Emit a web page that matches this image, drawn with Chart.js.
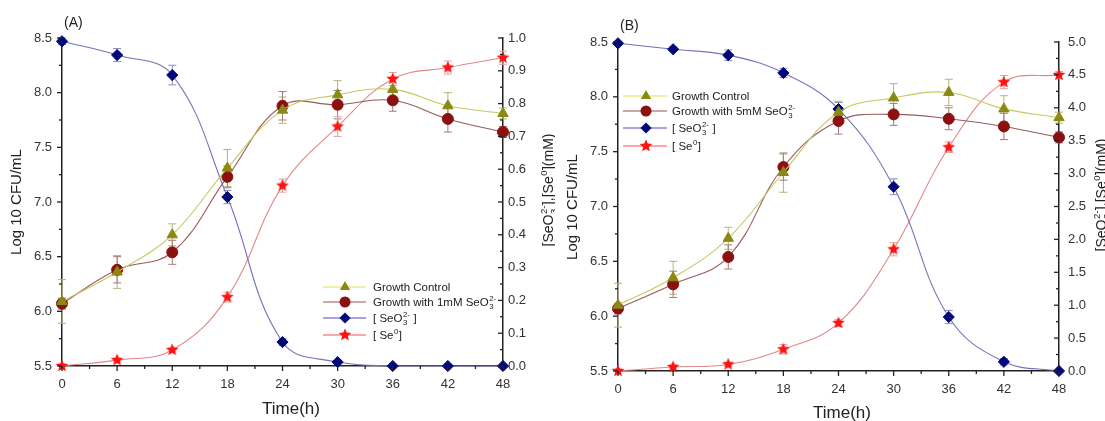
<!DOCTYPE html>
<html><head><meta charset="utf-8">
<script src="https://cdn.jsdelivr.net/npm/chart.js@4/dist/chart.umd.min.js"></script>
<style>
html,body{margin:0;padding:0;background:#fff;width:1105px;height:421px;overflow:hidden}
#wa{position:absolute;left:0;top:0;width:555px;height:421px}
#wb{position:absolute;left:555px;top:0;width:550px;height:421px}
</style></head><body>
<div id="wa"><canvas id="ca"></canvas></div>
<div id="wb"><canvas id="cb"></canvas></div>
<script>
const FONT = "'Liberation Sans', Arial, Helvetica, sans-serif";

// ---- categories / ticks ----
const timeH = [0, 6, 12, 18, 24, 30, 36, 42, 48];
const timeTicks = [0, 6, 12, 18, 24, 30, 36, 42, 48];
const cfuTicks = [5.5, 6.0, 6.5, 7.0, 7.5, 8.0, 8.5];
const mMTicksA = [0, 0.1, 0.2, 0.3, 0.4, 0.5, 0.6, 0.7, 0.8, 0.9, 1.0];
const mMTicksB = [0, 0.5, 1.0, 1.5, 2.0, 2.5, 3.0, 3.5, 4.0, 4.5, 5.0];

// ---- Panel A values ----
const ctrlA      = [6.09, 6.36, 6.70, 7.31, 7.84, 7.98, 8.03, 7.88, 7.81];
const ctrlAErr   = [0.20, 0.15, 0.10, 0.17, 0.12, 0.13, 0.10, 0.12, 0.05];
const seGrowA    = [6.07, 6.38, 6.54, 7.23, 7.88, 7.89, 7.93, 7.76, 7.64];
const seGrowAErr = [0.05, 0.12, 0.11, 0.10, 0.13, 0.13, 0.10, 0.12, 0.05];
const seo3A      = [0.99, 0.948, 0.887, 0.515, 0.073, 0.012, 0.0, 0.0, 0.0];
const seo3AErr   = [0.01, 0.02, 0.03, 0.02, 0.01, 0.005, 0, 0, 0];
const se0A       = [0.0, 0.018, 0.049, 0.21, 0.55, 0.73, 0.875, 0.91, 0.94];
const se0AErr    = [0, 0.005, 0.005, 0.015, 0.02, 0.03, 0.02, 0.02, 0.02];

// ---- Panel B values ----
const ctrlB      = [6.10, 6.35, 6.71, 7.31, 7.86, 7.99, 8.04, 7.89, 7.81];
const ctrlBErr   = [0.20, 0.15, 0.10, 0.18, 0.10, 0.13, 0.12, 0.12, 0.05];
const seGrowB    = [6.07, 6.29, 6.54, 7.36, 7.78, 7.84, 7.80, 7.73, 7.63];
const seGrowBErr = [0.05, 0.12, 0.11, 0.12, 0.12, 0.10, 0.10, 0.12, 0.05];
const seo3B      = [4.98, 4.89, 4.80, 4.53, 3.98, 2.80, 0.82, 0.14, 0.0];
const seo3BErr   = [0.03, 0.03, 0.08, 0.07, 0.10, 0.12, 0.10, 0.05, 0];
const se0B       = [0.0, 0.06, 0.10, 0.33, 0.73, 1.85, 3.40, 4.39, 4.50];
const se0BErr    = [0, 0.03, 0.03, 0.07, 0.05, 0.10, 0.08, 0.10, 0.05];

// ---- styles ----
const C = {
  ctrl: {mk:'#8a8a12', line:'#c8c860', err:'#b8b078', leg:'#e2e050'},
  grow: {mk:'#8b1010', line:'#9a5a5a', err:'#a87878', leg:'#a05050'},
  seo3: {mk:'#00087a', line:'#7474b8', err:'#8c8cc4', leg:'#4a4ac0'},
  se0:  {mk:'#ff1212', line:'#e08888', err:'#e0a0a0', leg:'#ff5050'}
};

function makeStar(R, color){
  const s = Math.ceil(2*R+2);
  const c = document.createElement('canvas'); c.width = s; c.height = s;
  const g = c.getContext('2d');
  g.beginPath();
  for (let k=0;k<10;k++){
    const r = (k%2) ? R*0.45 : R;
    const a = -Math.PI/2 + k*Math.PI/5;
    g.lineTo(s/2 + r*Math.cos(a), s/2 + r*Math.sin(a));
  }
  g.closePath(); g.fillStyle = color; g.fill();
  return c;
}
const STAR = makeStar(6.6, C.se0.mk);

function ds(label, ys, errs, axis, style, col, radius){
  return {
    label, data: timeH.map((t,i)=>({x:t, y:ys[i]})), errors: errs, errColor: col.err,
    yAxisID: axis, pointStyle: style, pointRadius: radius, pointHoverRadius: radius,
    pointBackgroundColor: col.mk, pointBorderColor: col.mk, pointBorderWidth: 1,
    borderColor: col.line, borderWidth: 1.1, tension: 0.4, fill: false, clip: false
  };
}

// rich text: segments are strings or {sub, sup}
function segWidth(ctx, segs, size){
  let w = 0;
  segs.forEach(s=>{
    if (typeof s === 'string'){ ctx.font = size+'px '+FONT; w += ctx.measureText(s).width; }
    else { ctx.font = (size*0.68)+'px '+FONT;
      w += Math.max(s.sub?ctx.measureText(s.sub).width:0, s.sup?ctx.measureText(s.sup).width:0) + 1; }
  });
  return w;
}
function drawRich(ctx, segs, x, y, size, align){
  let cx = x;
  if (align === 'center') cx = x - segWidth(ctx, segs, size)/2;
  ctx.textBaseline = 'alphabetic'; ctx.textAlign = 'left';
  segs.forEach(s=>{
    if (typeof s === 'string'){
      ctx.font = size+'px '+FONT; ctx.fillText(s, cx, y); cx += ctx.measureText(s).width;
    } else {
      ctx.font = (size*0.68)+'px '+FONT;
      let w = 0;
      if (s.sub){ ctx.fillText(s.sub, cx+0.5, y + size*0.28); w = Math.max(w, ctx.measureText(s.sub).width); }
      if (s.sup){ ctx.fillText(s.sup, cx+0.5, y - size*0.42); w = Math.max(w, ctx.measureText(s.sup).width); }
      cx += w + 1;
    }
  });
}

function drawMarker(ctx, kind, x, y, color){
  ctx.fillStyle = color;
  ctx.beginPath();
  if (kind === 'triangle'){ const r=6; ctx.moveTo(x, y-r); ctx.lineTo(x+r*0.866, y+r*0.5); ctx.lineTo(x-r*0.866, y+r*0.5); ctx.closePath(); ctx.fill(); }
  else if (kind === 'circle'){ ctx.arc(x, y, 5.5, 0, Math.PI*2); ctx.fill(); }
  else if (kind === 'diamond'){ const r=5.6; ctx.moveTo(x, y-r); ctx.lineTo(x+r, y); ctx.lineTo(x, y+r); ctx.lineTo(x-r, y); ctx.closePath(); ctx.fill(); }
  else if (kind === 'star'){ ctx.drawImage(STAR, x-STAR.width/2, y-STAR.height/2); }
}

const decoPlugin = {
  id: 'deco',
  beforeDatasetsDraw(chart){
    const ctx = chart.ctx, sx = chart.scales.x;
    ctx.save(); ctx.lineWidth = 1;
    chart.data.datasets.forEach(d=>{
      const sc = chart.scales[d.yAxisID];
      ctx.strokeStyle = d.errColor;
      d.data.forEach((p,i)=>{
        const e = d.errors[i]; if (!e) return;
        const px = sx.getPixelForValue(p.x);
        const y1 = sc.getPixelForValue(p.y - e), y2 = sc.getPixelForValue(p.y + e);
        ctx.beginPath();
        ctx.moveTo(px, y1); ctx.lineTo(px, y2);
        ctx.moveTo(px-4, y1); ctx.lineTo(px+4, y1);
        ctx.moveTo(px-4, y2); ctx.lineTo(px+4, y2);
        ctx.stroke();
      });
    });
    ctx.restore();
  },
  afterDraw(chart){
    const o = chart.options.plugins.deco;
    const ctx = chart.ctx, a = chart.chartArea;
    const sx = chart.scales.x, sy = chart.scales.y, sr = chart.scales.y2;
    ctx.save();
    ctx.strokeStyle = '#222'; ctx.lineWidth = 1.3;
    const tick = (x1,y1,x2,y2)=>{ ctx.beginPath(); ctx.moveTo(x1,y1); ctx.lineTo(x2,y2); ctx.stroke(); };
    timeTicks.forEach((v,i)=>{
      const px = sx.getPixelForValue(v); tick(px, a.bottom, px, a.bottom+5);
      if (i < timeTicks.length-1){ const m = sx.getPixelForValue((v+timeTicks[i+1])/2); tick(m, a.bottom, m, a.bottom+3); }
    });
    cfuTicks.forEach((v,i)=>{
      const py = sy.getPixelForValue(v); tick(a.left-5, py, a.left, py);
      if (i < cfuTicks.length-1){ const m = sy.getPixelForValue((v+cfuTicks[i+1])/2); tick(a.left-3, m, a.left, m); }
    });
    const rt = o.rightTicks;
    rt.forEach((v,i)=>{
      const py = sr.getPixelForValue(v); tick(a.right-5, py, a.right, py);
      if (i < rt.length-1){ const m = sr.getPixelForValue((v+rt[i+1])/2); tick(a.right-3, m, a.right, m); }
    });
    ctx.fillStyle = '#222';
    ctx.font = '15px '+FONT; ctx.textAlign = 'center'; ctx.textBaseline = 'middle';
    ctx.save(); ctx.translate(o.leftTitle[0], o.leftTitle[1]); ctx.rotate(-Math.PI/2);
    ctx.fillText('Log 10 CFU/mL', 0, 0); ctx.restore();
    ctx.save(); ctx.translate(o.rightTitle[0], o.rightTitle[1]); ctx.rotate(-Math.PI/2);
    drawRich(ctx, ['[SeO', {sub:'3', sup:'2-'}, '],[Se', {sup:'0'}, '](mM)'], 0, 5, 14, 'center');
    ctx.restore();
    ctx.font = '17px '+FONT; ctx.textAlign = 'center'; ctx.textBaseline = 'middle';
    ctx.fillText('Time(h)', o.xTitle[0], o.xTitle[1]);
    ctx.font = '14px '+FONT; ctx.textAlign = 'left';
    ctx.fillText(o.panel, o.panelPos[0], o.panelPos[1]);
    const L = o.legend;
    const items = [
      {kind:'triangle', col:C.ctrl, segs:['Growth Control']},
      {kind:'circle', col:C.grow, segs:['Growth with '+o.dose+' SeO', {sub:'3', sup:'2-'}]},
      {kind:'diamond', col:C.seo3, segs:['[ SeO', {sub:'3', sup:'2-'}, ' ]']},
      {kind:'star', col:C.se0, segs:['[ Se', {sup:'0'}, ']']}
    ];
    items.forEach((it,i)=>{
      const y = L.ys[i];
      ctx.strokeStyle = it.col.leg; ctx.lineWidth = 1.2;
      ctx.beginPath(); ctx.moveTo(L.x0, y); ctx.lineTo(L.x1, y); ctx.stroke();
      drawMarker(ctx, it.kind, L.xm, y, it.col.mk);
      ctx.fillStyle = '#222';
      drawRich(ctx, it.segs, L.xt, y+4, 11.5, 'left');
    });
    ctx.restore();
  }
};

function makePanel(id, p){
  const axisCommon = {
    grid: {display: true, drawOnChartArea: false, drawTicks: false},
    border: {display: true, color: '#222', width: 1.5}
  };
  const tickFont = {family: FONT, size: 13};
  return new Chart(document.getElementById(id), {
    type: 'line',
    data: { datasets: [
      ds('Growth Control', p.ctrl, p.ctrlErr, 'y', 'triangle', C.ctrl, 6),
      ds('Growth with '+p.dose+' SeO3 2-', p.grow, p.growErr, 'y', 'circle', C.grow, 5.5),
      ds('[SeO3 2-]', p.seo3, p.seo3Err, 'y2', 'rectRot', C.seo3, 5.6),
      ds('[Se0]', p.se0, p.se0Err, 'y2', STAR, C.se0, 6)
    ]},
    options: {
      responsive: true, maintainAspectRatio: false, animation: false, events: [],
      layout: {padding: {left: 0, right: 0, top: p.top, bottom: 0}},
      plugins: {
        legend: {display: false}, tooltip: {enabled: false},
        deco: {rightTicks: p.rTicks, leftTitle: p.leftTitle, rightTitle: p.rightTitle,
               xTitle: p.xTitle, panel: p.panel, panelPos: p.panelPos, legend: p.legend, dose: p.dose}
      },
      scales: {
        x: Object.assign({type: 'linear', min: 0, max: 48,
          afterBuildTicks: s=>{ s.ticks = timeTicks.map(v=>({value:v})); },
          afterFit: s=>{ s.height = p.xH; },
          ticks: {padding: 11, color: '#333', font: tickFont, callback: v=>String(v), maxRotation: 0, autoSkip: false}
        }, axisCommon),
        y: Object.assign({position: 'left', min: 5.5, max: 8.5,
          afterBuildTicks: s=>{ s.ticks = cfuTicks.map(v=>({value:v})); },
          afterFit: s=>{ s.width = p.yW; },
          ticks: {padding: 10, color: '#333', font: tickFont, callback: v=>Number(v).toFixed(1), autoSkip: false}
        }, axisCommon),
        y2: Object.assign({position: 'right', min: 0, max: p.rTicks[p.rTicks.length-1],
          afterBuildTicks: s=>{ s.ticks = p.rTicks.map(v=>({value:v})); },
          afterFit: s=>{ s.width = p.rW; },
          ticks: {padding: p.rPad, color: '#333', font: tickFont, callback: v=>Number(v).toFixed(1), autoSkip: false}
        }, axisCommon)
      }
    },
    plugins: [decoPlugin]
  });
}

makePanel('ca', {
  ctrl: ctrlA, ctrlErr: ctrlAErr, grow: seGrowA, growErr: seGrowAErr,
  seo3: seo3A, seo3Err: seo3AErr, se0: se0A, se0Err: se0AErr, dose: '1mM',
  rTicks: mMTicksA, top: 38, xH: 55, yW: 62, rW: 52, rPad: 5,
  leftTitle: [17, 202], rightTitle: [548, 190], xTitle: [291, 409],
  panel: '(A)', panelPos: [64, 23],
  legend: {x0: 323, x1: 366, xm: 345, xt: 373, ys: [287, 302, 318, 335]}
});
makePanel('cb', {
  ctrl: ctrlB, ctrlErr: ctrlBErr, grow: seGrowB, growErr: seGrowBErr,
  seo3: seo3B, seo3Err: seo3BErr, se0: se0B, se0Err: se0BErr, dose: '5mM',
  rTicks: mMTicksB, top: 42, xH: 50, yW: 63, rW: 46, rPad: 9,
  leftTitle: [18, 207], rightTitle: [546, 195], xTitle: [287, 413],
  panel: '(B)', panelPos: [65, 26],
  legend: {x0: 68, x1: 112, xm: 91, xt: 117, ys: [96, 111, 128, 146]}
});
</script>
</body></html>
